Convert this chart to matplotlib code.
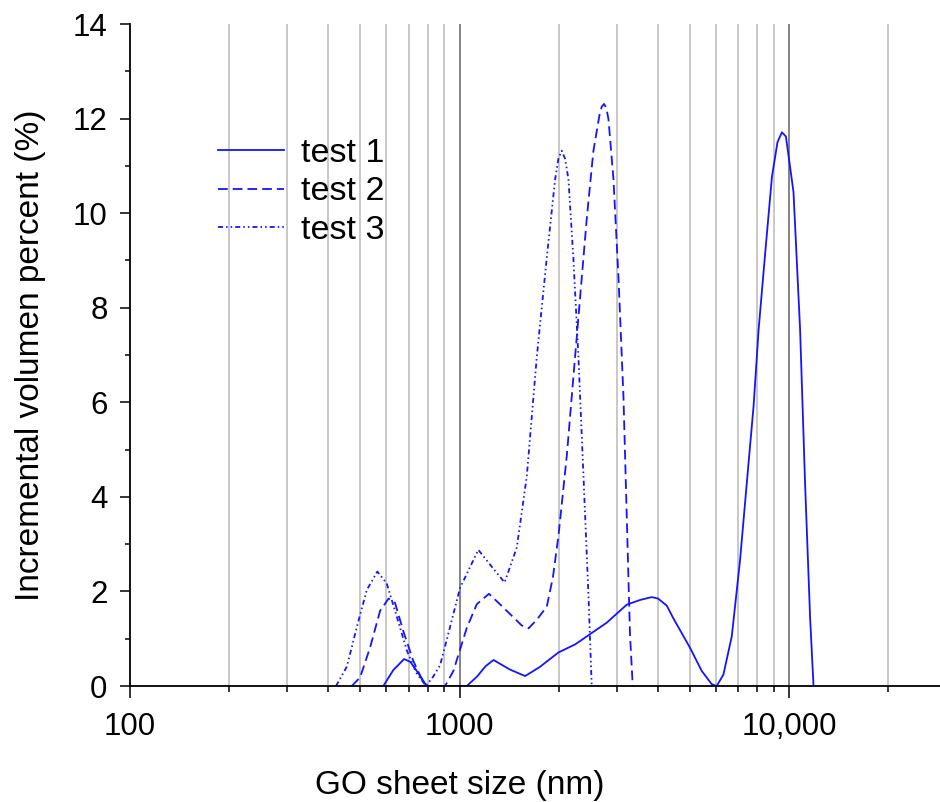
import matplotlib
matplotlib.use("Agg")
import matplotlib.pyplot as plt
from matplotlib.ticker import FixedLocator, FixedFormatter, MultipleLocator, NullFormatter

plt.rcParams['font.family'] = ['Liberation Sans', 'DejaVu Sans']
plt.rcParams['lines.scale_dashes'] = False

# ---- data ----
t1_x = [587, 630, 679, 709, 750, 795, 1052, 1130, 1200, 1268, 1420, 1581, 1750, 1996, 2243,
        2798, 3216, 3533, 3830, 4000, 4254, 4455, 5003, 5430, 5820, 6030, 6318, 6700, 7100,
        7440, 7800, 8080, 8460, 8870, 9220, 9510, 9780, 10310, 10800, 11180, 11580, 11860]
t1_y = [0, 0.34, 0.57, 0.51, 0.27, 0, 0, 0.20, 0.42, 0.55, 0.35, 0.21, 0.40, 0.71, 0.88,
        1.34, 1.72, 1.82, 1.88, 1.85, 1.70, 1.43, 0.81, 0.32, 0.04, 0, 0.24, 1.05, 2.67,
        4.29, 5.91, 7.53, 9.15, 10.77, 11.50, 11.71, 11.62, 10.45, 7.53, 4.29, 1.45, 0]

t2_x = [471, 499, 535, 574, 609, 637, 675, 724, 777, 800, 904, 958, 1052, 1128, 1228, 1358,
        1544, 1620, 1715, 1840, 1920, 1996, 2115, 2215, 2321, 2432, 2547, 2656, 2700, 2745,
        2790, 2831, 2931, 3036, 3143, 3216, 3290, 3354]
t2_y = [0, 0.18, 0.81, 1.59, 1.85, 1.76, 1.16, 0.53, 0.07, 0, 0, 0.32, 1.23, 1.73, 1.95, 1.66,
        1.28, 1.22, 1.40, 1.68, 2.30, 3.18, 4.86, 6.53, 8.21, 9.88, 11.31, 12.06, 12.25, 12.31,
        12.22, 11.98, 10.72, 8.63, 6.12, 3.60, 1.09, 0]

t3_x = [422, 455, 488, 523, 563, 601, 645, 691, 741, 791, 832, 873, 914, 1003, 1140, 1260,
        1370, 1492, 1600, 1715, 1839, 1950, 1995, 2042, 2090, 2140, 2215, 2295, 2377, 2461,
        2518]
t3_y = [0, 0.41, 1.25, 2.03, 2.42, 2.17, 1.47, 0.76, 0.27, 0, 0.20, 0.44, 0.97, 2.07, 2.88, 2.50,
        2.19, 2.93, 4.44, 6.95, 9.05, 10.72, 11.15, 11.32, 11.15, 10.72, 9.05, 6.95, 4.44, 1.93,
        0]

series_labels = ['test 1', 'test 2', 'test 3']
x_major = [100, 1000, 10000]
x_major_labels = ['100', '1000', '10,000']
x_minor = [200, 300, 400, 500, 600, 700, 800, 900,
           2000, 3000, 4000, 5000, 6000, 7000, 8000, 9000, 20000]
x_limits = (100, 28700)
y_limits = (0, 14)

# ---- figure ----
fig = plt.figure(figsize=(9.4, 8.02), dpi=100)
ax = fig.add_axes([130 / 940, 1 - 686 / 802, 1 - 130 / 940, (686 - 24) / 802])
ax.set_xscale('log')
ax.set_xlim(*x_limits)
ax.set_ylim(*y_limits)

# vertical grid lines
for v in x_minor:
    ax.axvline(v, color='#c4c4c4', lw=1.3, zorder=0)
for v in x_major[1:]:
    ax.axvline(v, color='#7a7a7a', lw=1.3, zorder=0)

blue = '#1414ff'
ax.plot(t1_x, t1_y, color=blue, lw=1.3, linestyle='-', label=series_labels[0])
ax.plot(t2_x, t2_y, color=blue, lw=1.3, linestyle=(0, (7, 3.6)), label=series_labels[1])
ax.plot(t3_x, t3_y, color=blue, lw=1.3, linestyle=(0, (3.6, 2.2, 1.1, 2.2, 1.1, 2.2)),
        label=series_labels[2])

ax.xaxis.set_major_locator(FixedLocator(x_major))
ax.xaxis.set_major_formatter(FixedFormatter(x_major_labels))
ax.xaxis.set_minor_locator(FixedLocator(x_minor))
ax.xaxis.set_minor_formatter(NullFormatter())
ax.yaxis.set_major_locator(MultipleLocator(2))
ax.yaxis.set_minor_locator(MultipleLocator(1))

for s in ['top', 'right']:
    ax.spines[s].set_visible(False)
for s in ['left', 'bottom']:
    ax.spines[s].set_linewidth(1.3)
    ax.spines[s].set_color('black')

ax.tick_params(axis='x', which='major', direction='out', length=8.5, width=1.1, pad=10,
               labelsize=22.5)
ax.tick_params(axis='x', which='minor', direction='out', length=4.3, width=1.1)
ax.tick_params(axis='y', which='major', direction='out', length=7.2, width=1.1, pad=9,
               labelsize=22.5)
ax.tick_params(axis='y', which='minor', direction='out', length=3.6, width=1.1)

ax.set_xlabel('GO sheet size (nm)', fontsize=24)
ax.xaxis.set_label_coords((460 - 130) / 810, (686 - 770) / 662)
ax.set_ylabel('Incremental volumen percent (%)', fontsize=24)
ax.yaxis.set_label_coords((46 - 130) / 810, 0.5)

leg = ax.legend(loc='upper left', bbox_to_anchor=((218 - 130) / 810, (686 - 138) / 662),
                frameon=False, fontsize=24.5, handlelength=1.95, handletextpad=0.5,
                labelspacing=0.22, borderpad=0, borderaxespad=0)

fig.savefig('out.png', dpi=100)
